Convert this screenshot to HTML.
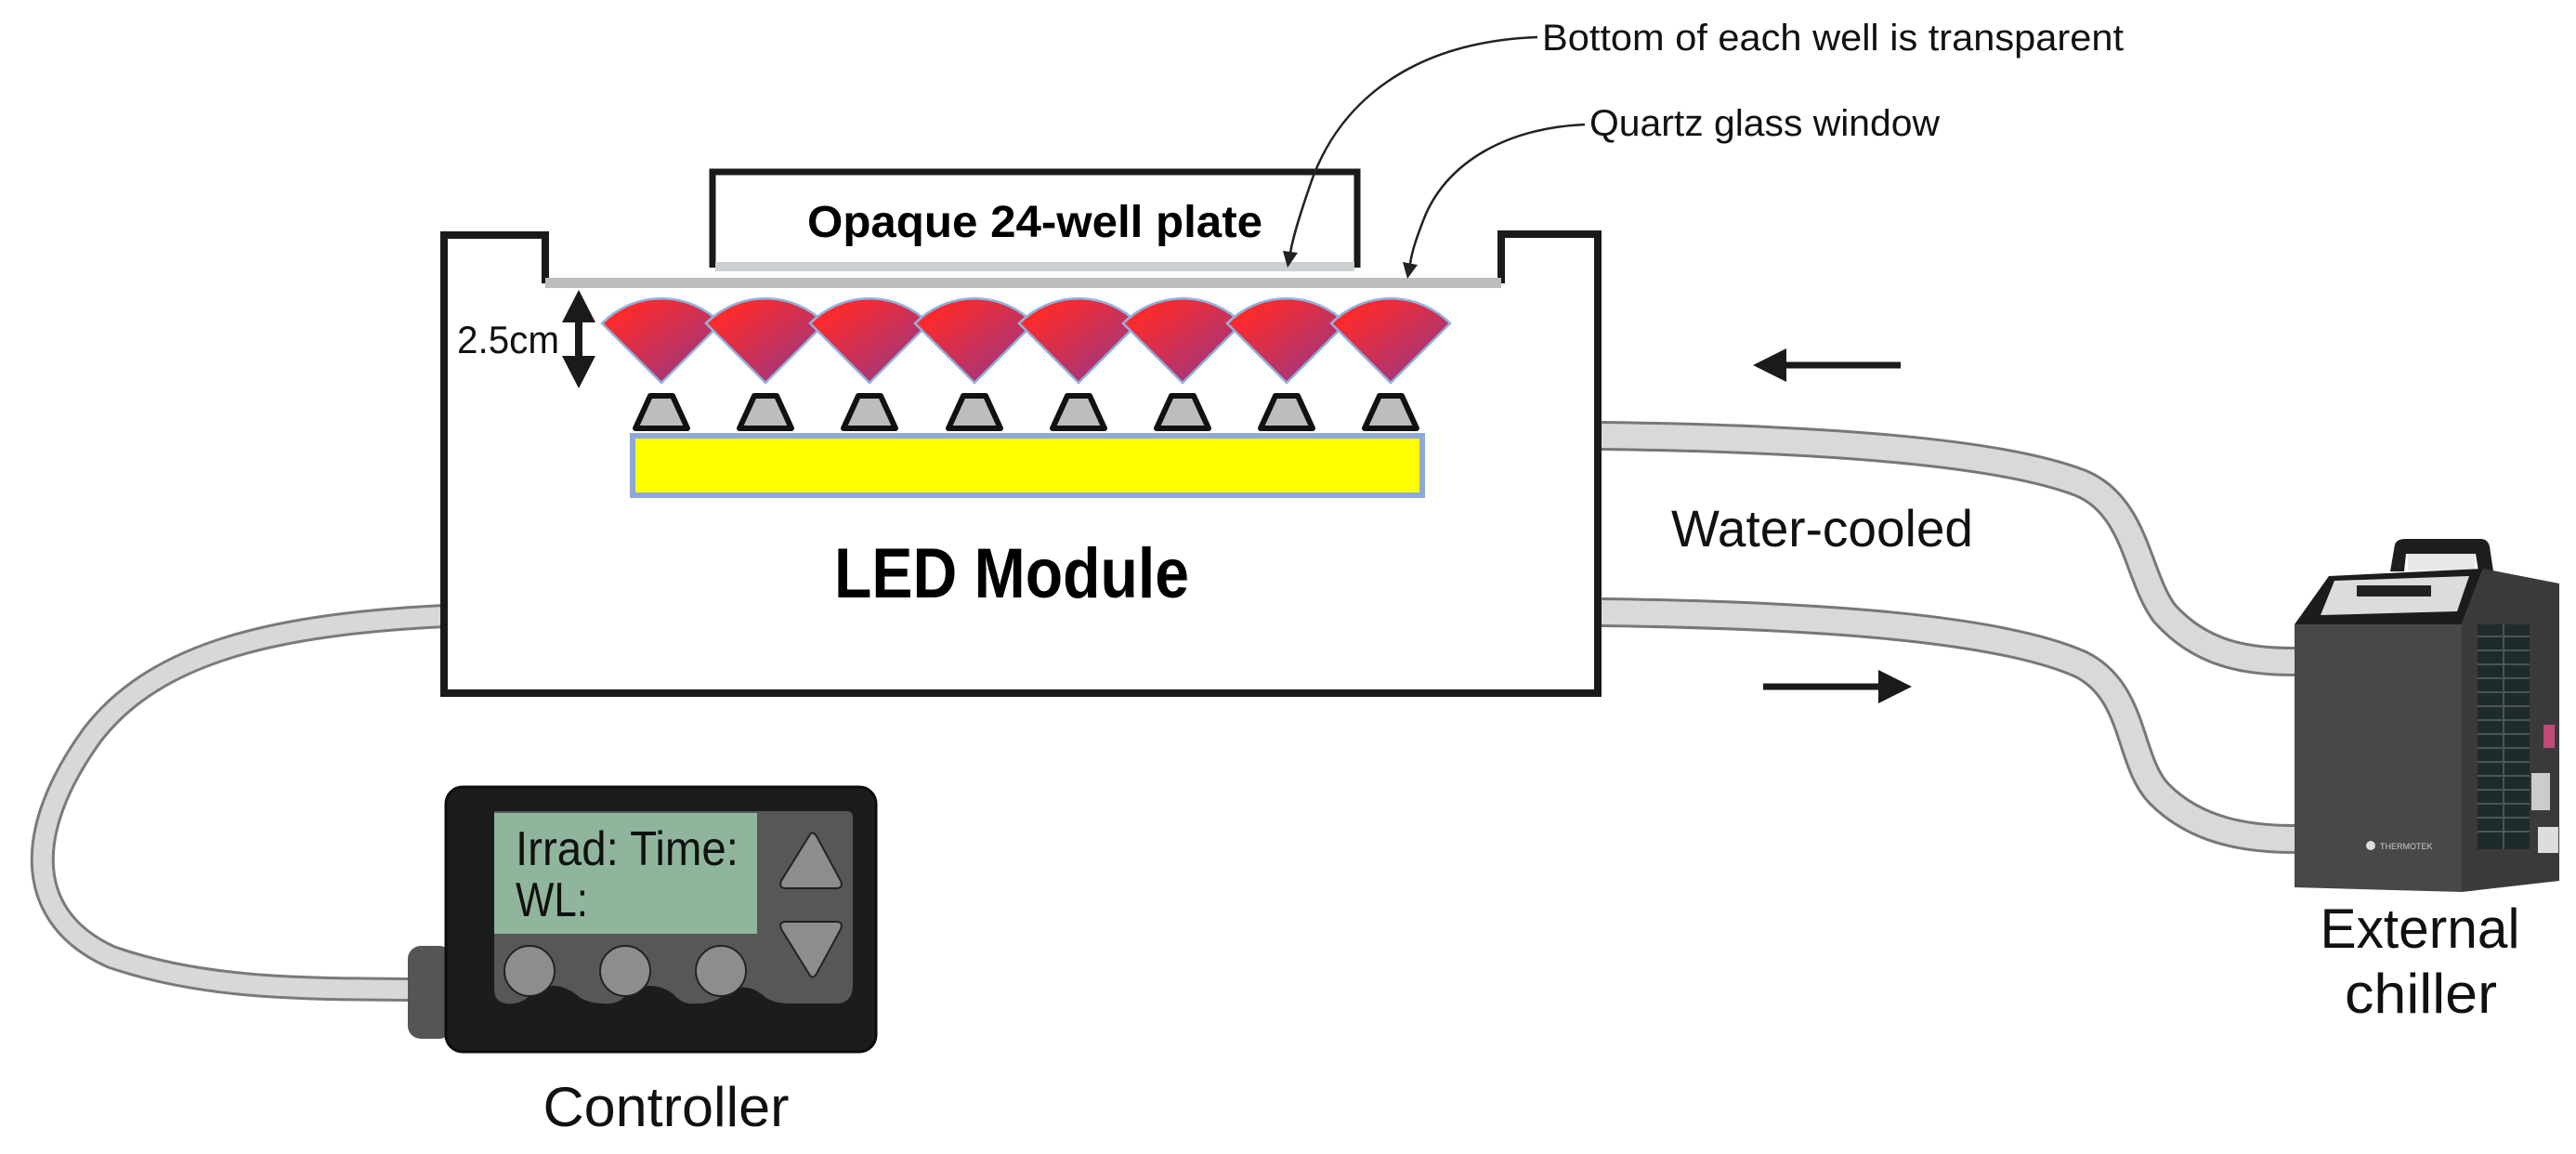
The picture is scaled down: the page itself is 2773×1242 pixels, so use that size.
<!DOCTYPE html>
<html><head><meta charset="utf-8"><style>html,body{margin:0;padding:0;background:#fff}svg{display:block}</style></head>
<body>
<svg width="2773" height="1242" viewBox="0 0 2773 1242" xmlns="http://www.w3.org/2000/svg" font-family="Liberation Sans, sans-serif">
<defs>
<linearGradient id="cone" x1="0" y1="0" x2="1" y2="1">
<stop offset="0.15" stop-color="#ff2a2a"/><stop offset="1" stop-color="#8a3a8e"/>
</linearGradient>
</defs>

<!-- controller cable -->
<path d="M478,663 C300,672 170,700 100,790 C20,900 30,990 120,1030 C220,1065 330,1064 442,1065" fill="none" stroke="#7a7a7a" stroke-width="26"/>
<path d="M478,663 C300,672 170,700 100,790 C20,900 30,990 120,1030 C220,1065 330,1064 442,1065" fill="none" stroke="#d8d8d6" stroke-width="20"/>

<!-- tubes -->
<path d="M1724,469 C1950,472 2150,485 2240,520 C2300,545 2300,620 2330,660 C2370,705 2420,712 2470,712" fill="none" stroke="#777" stroke-width="32"/>
<path d="M1724,469 C1950,472 2150,485 2240,520 C2300,545 2300,620 2330,660 C2370,705 2420,712 2470,712" fill="none" stroke="#d9d9d7" stroke-width="26"/>
<path d="M1724,659 C1950,662 2150,675 2240,715 C2300,745 2290,820 2325,855 C2365,895 2420,903 2470,903" fill="none" stroke="#777" stroke-width="32"/>
<path d="M1724,659 C1950,662 2150,675 2240,715 C2300,745 2290,820 2325,855 C2365,895 2420,903 2470,903" fill="none" stroke="#d9d9d7" stroke-width="26"/>

<!-- main box -->
<path d="M587,305 L587,253 L478,253 L478,746 L1720,746 L1720,252 L1616,252 L1616,305" fill="none" stroke="#1a1a1a" stroke-width="8" stroke-linejoin="miter"/>
<rect x="587" y="299" width="1029" height="11" fill="#bdbdbd"/>
<!-- plate -->
<path d="M767,288 L767,185 L1461,185 L1461,288" fill="none" stroke="#1a1a1a" stroke-width="7"/>
<rect x="770" y="282" width="688" height="10" fill="#cdd0d2"/>
<text x="1114" y="255" font-size="48" font-weight="bold" text-anchor="middle" textLength="490" lengthAdjust="spacingAndGlyphs" fill="#000">Opaque 24-well plate</text>

<!-- cones -->
<g fill="url(#cone)" stroke="#8fb3e0" stroke-width="2.5">
<path d="M712,412 L648,348 A90,90 0 0 1 776,348 Z"/>
<path d="M824,412 L760,348 A90,90 0 0 1 888,348 Z"/>
<path d="M936,412 L872,348 A90,90 0 0 1 1000,348 Z"/>
<path d="M1049,412 L985,348 A90,90 0 0 1 1113,348 Z"/>
<path d="M1161,412 L1097,348 A90,90 0 0 1 1225,348 Z"/>
<path d="M1273,412 L1209,348 A90,90 0 0 1 1337,348 Z"/>
<path d="M1385,412 L1321,348 A90,90 0 0 1 1449,348 Z"/>
<path d="M1497,412 L1433,348 A90,90 0 0 1 1561,348 Z"/>
</g>
<!-- LED bases -->
<g fill="#bdbdbd" stroke="#111" stroke-width="6" stroke-linejoin="round">
<path d="M700,426 L724,426 L740,461 L684,461 Z"/>
<path d="M812,426 L836,426 L852,461 L796,461 Z"/>
<path d="M924,426 L948,426 L964,461 L908,461 Z"/>
<path d="M1037,426 L1061,426 L1077,461 L1021,461 Z"/>
<path d="M1149,426 L1173,426 L1189,461 L1133,461 Z"/>
<path d="M1261,426 L1285,426 L1301,461 L1245,461 Z"/>
<path d="M1373,426 L1397,426 L1413,461 L1357,461 Z"/>
<path d="M1485,426 L1509,426 L1525,461 L1469,461 Z"/>
</g>
<rect x="681" y="469" width="850" height="64" fill="#ffff00" stroke="#8fa9d6" stroke-width="6"/>

<!-- 2.5cm -->
<line x1="623" y1="335" x2="623" y2="395" stroke="#1a1a1a" stroke-width="8"/>
<path d="M623,312 L641,347 L605,347 Z M623,418 L641,383 L605,383 Z" fill="#1a1a1a"/>
<text x="492" y="380" font-size="42" fill="#111" textLength="110" lengthAdjust="spacingAndGlyphs">2.5cm</text>

<text x="1089" y="643" font-size="76" font-weight="bold" text-anchor="middle" textLength="382" lengthAdjust="spacingAndGlyphs" fill="#000">LED Module</text>

<!-- annotations -->
<text x="1660" y="54" font-size="40" fill="#111" textLength="626" lengthAdjust="spacingAndGlyphs">Bottom of each well is transparent</text>
<text x="1711" y="146" font-size="40" fill="#111" textLength="377" lengthAdjust="spacingAndGlyphs">Quartz glass window</text>
<path d="M1655,40 C1520,45 1440,110 1410,200 C1398,235 1392,255 1389,272" fill="none" stroke="#222" stroke-width="2.5"/>
<path d="M1381,270 L1397,272 L1386,288 Z" fill="#222"/>
<path d="M1706,134 C1620,138 1560,175 1535,230 C1525,255 1520,270 1518,284" fill="none" stroke="#222" stroke-width="2.5"/>
<path d="M1510,282 L1526,285 L1515,300 Z" fill="#222"/>

<!-- flow arrows -->
<line x1="1910" y1="393" x2="2046" y2="393" stroke="#1a1a1a" stroke-width="7"/>
<path d="M1887,393 L1923,375 L1923,411 Z" fill="#1a1a1a"/>
<line x1="1898" y1="739" x2="2035" y2="739" stroke="#1a1a1a" stroke-width="7"/>
<path d="M2058,739 L2022,721 L2022,757 Z" fill="#1a1a1a"/>
<text x="1799" y="588" font-size="56" fill="#111" textLength="325" lengthAdjust="spacingAndGlyphs">Water-cooled</text>

<!-- chiller -->
<path d="M2573,615 L2578,586 Q2580,580 2590,580 L2670,580 Q2678,580 2680,588 L2684,615 L2668,615 L2665,596 L2590,596 L2588,615 Z" fill="#1e1e1e"/>
<rect x="2592" y="596" width="72" height="18" fill="#e8e8e8"/>
<path d="M2650,672 L2673,612 L2755,628 L2755,948 L2650,960 Z" fill="#3a3a3c"/>
<path d="M2470,672 L2507,620 L2673,612 L2650,672 Z" fill="#1c1c1c"/>
<path d="M2498,662 L2513,625 L2658,620 L2645,658 Z" fill="#dcdcdc"/>
<rect x="2537" y="630" width="80" height="12" fill="#222"/>
<path d="M2470,672 L2650,672 L2650,960 L2470,955 Z" fill="#48484a"/>
<rect x="2667" y="672" width="56" height="242" fill="#1f2a2a"/>
<g stroke="#4a5656" stroke-width="2">
<line x1="2667" y1="685" x2="2723" y2="685"/><line x1="2667" y1="700" x2="2723" y2="700"/><line x1="2667" y1="715" x2="2723" y2="715"/><line x1="2667" y1="730" x2="2723" y2="730"/><line x1="2667" y1="745" x2="2723" y2="745"/><line x1="2667" y1="760" x2="2723" y2="760"/><line x1="2667" y1="775" x2="2723" y2="775"/><line x1="2667" y1="790" x2="2723" y2="790"/><line x1="2667" y1="805" x2="2723" y2="805"/><line x1="2667" y1="820" x2="2723" y2="820"/><line x1="2667" y1="835" x2="2723" y2="835"/><line x1="2667" y1="850" x2="2723" y2="850"/><line x1="2667" y1="865" x2="2723" y2="865"/><line x1="2667" y1="880" x2="2723" y2="880"/><line x1="2667" y1="895" x2="2723" y2="895"/>
<line x1="2695" y1="672" x2="2695" y2="914"/>
</g>
<rect x="2738" y="780" width="12" height="25" fill="#c04a7a"/>
<rect x="2725" y="832" width="20" height="40" fill="#ccc"/>
<rect x="2732" y="890" width="22" height="28" fill="#ddd"/>
<circle cx="2552" cy="910" r="5" fill="#ddd"/>
<text x="2562" y="914" font-size="9" fill="#ccc">THERMOTEK</text>
<text x="2605" y="1020" font-size="60" fill="#111" text-anchor="middle" textLength="215" lengthAdjust="spacingAndGlyphs">External</text>
<text x="2606" y="1090" font-size="60" fill="#111" text-anchor="middle" textLength="164" lengthAdjust="spacingAndGlyphs">chiller</text>

<!-- controller -->
<rect x="439" y="1018" width="48" height="100" rx="14" fill="#555"/>
<rect x="480" y="847" width="463" height="285" rx="18" fill="#1c1c1c" stroke="#0c0c0c" stroke-width="3"/>
<path d="M532,873 L912,873 Q918,873 918,880 L918,1060 Q918,1080 900,1080 L850,1080 Q830,1080 820,1070 Q800,1055 780,1070 Q770,1080 750,1080 Q735,1082 725,1070 Q700,1052 675,1070 Q665,1082 650,1080 Q630,1080 620,1070 Q595,1052 572,1070 Q560,1082 545,1080 Q532,1078 532,1065 Z" fill="#575757"/>
<rect x="532" y="875" width="283" height="130" fill="#8fb59c"/>
<text x="555" y="931" font-size="52" fill="#111" textLength="240" lengthAdjust="spacingAndGlyphs">Irrad: Time:</text>
<text x="555" y="986" font-size="52" fill="#111" textLength="78" lengthAdjust="spacingAndGlyphs">WL:</text>
<g fill="#8e8c8c" stroke="#222" stroke-width="2">
<circle cx="570" cy="1045" r="27"/><circle cx="673" cy="1045" r="27"/><circle cx="776" cy="1045" r="27"/>
<path d="M872,898 Q875,894 879,900 L905,948 Q908,956 900,956 L846,956 Q838,956 841,948 Z"/>
<path d="M872,1050 Q875,1054 879,1048 L905,1000 Q908,992 900,992 L846,992 Q838,992 841,1000 Z"/>
</g>
<text x="717" y="1212" font-size="60" fill="#111" text-anchor="middle" textLength="265" lengthAdjust="spacingAndGlyphs">Controller</text>
</svg>
</body></html>
